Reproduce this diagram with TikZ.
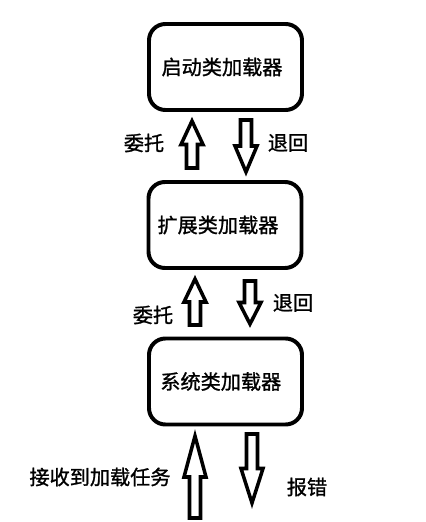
\documentclass[tikz,border=0pt]{standalone}
\usepackage{fontspec}
\setmainfont{Noto Sans CJK SC}[RawFeature={embolden=1.2}]
\usetikzlibrary{calc}
\newcommand{\arrshaft}{0.165cm}
\newcommand{\arrwing}{0.33cm}
\newcommand{\blockarrow}[2]{%
  \path ($(#2)!0.5!(#1)$) coordinate (hb);
  \draw[blockline]($(#1)!\arrshaft!90:(#2)$)--($(hb)!\arrshaft!90:(#2)$)--($(hb)!\arrwing!90:(#2)$)--(#2)
    --($(hb)!\arrwing!-90:(#2)$)--($(hb)!\arrshaft!-90:(#2)$)--($(#1)!\arrshaft!-90:(#2)$)--cycle;}
\begin{document}
\begin{tikzpicture}[x=0.03cm,y=-0.03cm,
    loader/.style={draw,line width=3.4pt,rounded corners=14pt,minimum width=4.59cm,minimum height=2.58cm,font=\fontsize{17.2}{20}\selectfont},
    lbl/.style={font=\fontsize{17.2}{20}\selectfont,inner sep=0pt},
    blockline/.style={line width=3pt,line join=miter}]
  \useasboundingbox(0,0)rectangle(426,522);
  \node[loader](boot)at(225.5,67){启动类加载器\hspace*{6pt}};
  \node[loader](ext)at(225,225){扩展类加载器\hspace*{12pt}};
  \node[loader](sys)at(225.5,381.5){系统类加载器\hspace*{8pt}};
  \coordinate(up1a)at(192,168);\coordinate(up1b)at(192,121);
  \coordinate(dn1a)at(246,120);\coordinate(dn1b)at(246,172);
  \coordinate(up2a)at(195,325);\coordinate(up2b)at(195,279);
  \coordinate(dn2a)at(250,281);\coordinate(dn2b)at(250,324);
  \coordinate(up3a)at(195,518);\coordinate(up3b)at(195,436);
  \coordinate(dn3a)at(252,434);\coordinate(dn3b)at(252,503);
  \blockarrow{up1a}{up1b}
  \blockarrow{dn1a}{dn1b}
  \blockarrow{up2a}{up2b}
  \blockarrow{dn2a}{dn2b}
  \blockarrow{up3a}{up3b}
  \blockarrow{dn3a}{dn3b}
  \node[lbl](wt1)at(144,143){委托};
  \node[lbl](th1)at(288,143){退回};
  \node[lbl](wt2)at(153,315){委托};
  \node[lbl](th2)at(293,303){退回};
  \node[lbl](task)at(100,477){接收到加载任务};
  \node[lbl](err)at(307,487){报错};
\end{tikzpicture}
\end{document}
